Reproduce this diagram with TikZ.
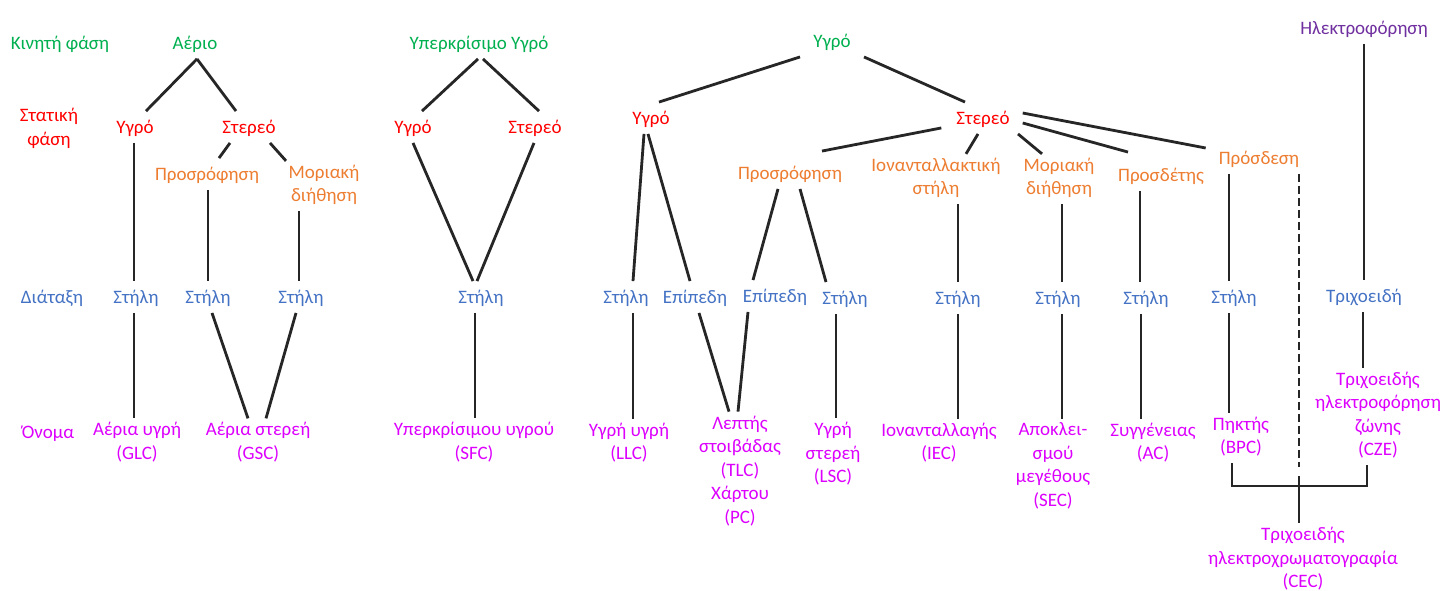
\documentclass[tikz,border=0pt]{standalone}
\usepackage{fontspec}
\setmainfont{Carlito}
\usetikzlibrary{calc}
\definecolor{cGreen}{HTML}{00B050}
\definecolor{cRed}{HTML}{FF0000}
\definecolor{cOrange}{HTML}{ED7D31}
\definecolor{cBlue}{HTML}{4472C4}
\definecolor{cMag}{HTML}{DD00FF}
\definecolor{cPurple}{HTML}{7030A0}
\definecolor{cLine}{HTML}{262626}
\newcommand\mystrut{\rule[-5pt]{0pt}{23.5pt}}
\tikzset{
  lbl/.style={inner xsep=3pt, inner ysep=4pt, align=center,
    font=\fontsize{19}{23.5}\selectfont,
    execute at begin node=\mystrut, execute at end node=\mystrut},
  kin/.style={lbl, text=cGreen},
  sta/.style={lbl, text=cRed},
  sor/.style={lbl, text=cOrange},
  dia/.style={lbl, text=cBlue},
  ono/.style={lbl, text=cMag},
  ele/.style={lbl, text=cPurple},
  conn/.style={draw=cLine, line width=2.8pt},
  dconn/.style={conn, dash pattern=on 8pt off 4pt},
}
\begin{document}
\begin{tikzpicture}[x=1pt, y=-1pt]
\useasboundingbox[fill=white] (0,0) rectangle (1445,590);
% row labels
\node[kin] (kLbl) at (60,43) {Κινητή φάση};
\node[sta] (sLbl) at (49,129.5) {Στατική\\φάση};
\node[dia] (dLbl) at (52,297) {Διάταξη};
\node[ono] (oLbl) at (48,432) {Όνομα};
% gas
\node[kin] (gA) at (195,43) {Αέριο};
\node[sta] (gY) at (135,127) {Υγρό};
\node[sta] (gS) at (249,127) {Στερεό};
\node[sor] (gP) at (207,174) {Προσρόφηση};
\node[sor] (gM) at (324,186) {Μοριακή\\διήθηση};
\node[dia] (gC1) at (136,297) {Στήλη};
\node[dia] (gC2) at (208,297) {Στήλη};
\node[dia] (gC3) at (301,297) {Στήλη};
\node[ono] (gN1) at (137,443.5) {Αέρια υγρή\\(GLC)};
\node[ono] (gN2) at (258,443.5) {Αέρια στερεή\\(GSC)};
% supercritical
\node[kin] (fA) at (479,43) {Υπερκρίσιμο Υγρό};
\node[sta] (fY) at (413,127) {Υγρό};
\node[sta] (fS) at (535,127) {Στερεό};
\node[dia] (fC) at (481,297) {Στήλη};
\node[ono] (fN) at (474,443.5) {Υπερκρίσιμου υγρού\\(SFC)};
% liquid
\node[kin] (lA) at (832,41) {Υγρό};
\node[sta] (lY) at (651,118) {Υγρό};
\node[sta] (lS) at (983,118) {Στερεό};
\node[sor] (lP) at (790,173) {Προσρόφηση};
\node[sor] (lI) at (936,179) {Ιονανταλλακτική\\στήλη};
\node[sor] (lM) at (1059,179) {Μοριακή\\διήθηση};
\node[sor] (lD) at (1161,175) {Προσδέτης};
\node[sor] (lB) at (1259,158) {Πρόσδεση};
\node[dia] (lC1) at (626,297) {Στήλη};
\node[dia] (lE1) at (695,297) {Επίπεδη};
\node[dia] (lE2) at (775,296) {Επίπεδη};
\node[dia] (lC2) at (845,298) {Στήλη};
\node[dia] (lC3) at (958,298) {Στήλη};
\node[dia] (lC4) at (1058,298) {Στήλη};
\node[dia] (lC5) at (1146,298) {Στήλη};
\node[dia] (lC6) at (1234,297) {Στήλη};
\node[ono] (lN1) at (629,444) {Υγρή υγρή\\(LLC)};
\node[ono] (lN2) at (740,472) {Λεπτής\\στοιβάδας\\(TLC)\\Χάρτου\\(PC)};
\node[ono] (lN3) at (833,455) {Υγρή\\στερεή\\(LSC)};
\node[ono] (lN4) at (939,444) {Ιονανταλλαγής\\(IEC)};
\node[ono] (lN5) at (1053,467) {Αποκλει-\\σμού\\μεγέθους\\(SEC)};
\node[ono] (lN6) at (1153,444) {Συγγένειας\\(AC)};
\node[ono] (lN7) at (1241,438) {Πηκτής\\(BPC)};
% electrophoresis
\node[ele] (eA) at (1364,28) {Ηλεκτροφόρηση};
\node[dia] (eT) at (1364,296) {Τριχοειδή};
\node[ono] (eN) at (1378,416.5) {Τριχοειδής\\ηλεκτροφόρηση\\ζώνης\\(CZE)};
\node[ono] (cec) at (1303,560) {Τριχοειδής\\ηλεκτροχρωματογραφία\\(CEC)};
\coordinate (dashEnd) at (1299,467);
\coordinate (brk) at (1299,486);
\coordinate (cecTop) at (1299,476);
% gas connectors
\draw[conn] ([xshift=2pt]gA.south) -- ([xshift=11pt]gY.north);
\draw[conn] ([xshift=2pt]gA.south) -- ([xshift=-13pt]gS.north);
\draw[conn] ([xshift=-19pt]gS.south) -- ([xshift=12pt]gP.north);
\draw[conn] ([xshift=21pt]gS.south) -- ([xshift=-38pt]gM.north);
\draw[conn] ([xshift=-1pt]gY.south) -- ([xshift=-2pt]gC1.north);
\draw[conn] ([xshift=1pt]gP.south) -- (gC2.north);
\draw[conn] ([xshift=-25pt]gM.south) -- ([xshift=-2pt]gC3.north);
\draw[conn] ([xshift=-2pt]gC1.south) -- ([xshift=-3pt]gN1.north);
\draw[conn] ([xshift=4pt]gC2.south) -- ([xshift=-10pt]gN2.north);
\draw[conn] ([xshift=-5pt]gC3.south) -- ([xshift=8pt]gN2.north);
% supercritical connectors
\draw[conn] ([xshift=-1pt]fA.south) -- ([xshift=9pt]fY.north);
\draw[conn] ([xshift=4pt]fA.south) -- ([xshift=4pt]fS.north);
\draw[conn] (fY.south) -- ([xshift=-8pt]fC.north);
\draw[conn] ([xshift=-1pt]fS.south) -- ([xshift=-4pt]fC.north);
\draw[conn] ([xshift=-6pt]fC.south) -- ([xshift=1pt]fN.north);
% liquid connectors
\draw[conn] ([xshift=-32pt]lA.south) -- ([xshift=8pt]lY.north);
\draw[conn] ([xshift=32pt]lA.south) -- ([xshift=-18pt]lS.north);
\draw[conn] ([xshift=-7pt]lY.south) -- ([xshift=7pt]lC1.north);
\draw[conn] ([xshift=-3pt]lY.south) -- ([xshift=-5pt]lE1.north);
\draw[conn] ([shift={(-12pt,6pt)}]lS.south west) -- ([shift={(32pt,6pt)}]lP.north);
\draw[conn] ([xshift=-5pt]lS.south) -- ([xshift=30pt]lI.north);
\draw[conn] ([xshift=35pt]lS.south) -- ([xshift=-17pt]lM.north);
\draw[conn] ([shift={(10pt,-5pt)}]lS.east) -- ([shift={(-33pt,7pt)}]lD.north);
\draw[conn] ([shift={(10pt,5pt)}]lS.east) -- ([shift={(-10pt,10pt)}]lB.west);
\draw[conn] ([xshift=-12pt]lP.south) -- ([xshift=-22pt]lE2.north);
\draw[conn] ([xshift=10pt]lP.south) -- ([xshift=-19pt]lC2.north);
\draw[conn] ([xshift=22pt]lI.south) -- (lC3.north);
\draw[conn] ([xshift=3pt]lM.south) -- ([xshift=4pt]lC4.north);
\draw[conn] ([xshift=-21pt]lD.south) -- ([xshift=-6pt]lC5.north);
\draw[conn] ([xshift=-30pt]lB.south) -- ([xshift=-5pt]lC6.north);
\draw[conn] ([xshift=7pt]lC1.south) -- ([xshift=4pt]lN1.north);
\draw[conn] ([xshift=4pt]lE1.south) -- ([xshift=-11pt]lN2.north);
\draw[conn] ([xshift=-27pt]lE2.south) -- ([xshift=-2pt]lN2.north);
\draw[conn] ([xshift=-9pt]lC2.south) -- ([xshift=3pt]lN3.north);
\draw[conn] (lC3.south) -- ([xshift=19pt]lN4.north);
\draw[conn] ([xshift=4pt]lC4.south) -- ([xshift=9pt]lN5.north);
\draw[conn] ([xshift=-5pt]lC5.south) -- ([xshift=-12pt]lN6.north);
\draw[conn] ([xshift=-5pt]lC6.south) -- ([xshift=-12pt]lN7.north);
% electrophoresis connectors
\draw[conn] (eA.south) -- (eT.north);
\draw[conn] ([xshift=-1pt]eT.south) -- ([xshift=-15pt]eN.north);
% CEC
\draw[dconn] ([xshift=40pt]lB.south) -- (dashEnd);
\draw[conn] ([xshift=-9pt]lN7.south) |- (brk) -| ([xshift=-11pt]eN.south);
\draw[conn] (cecTop) -- ([xshift=-4pt]cec.north);
\end{tikzpicture}
\end{document}
